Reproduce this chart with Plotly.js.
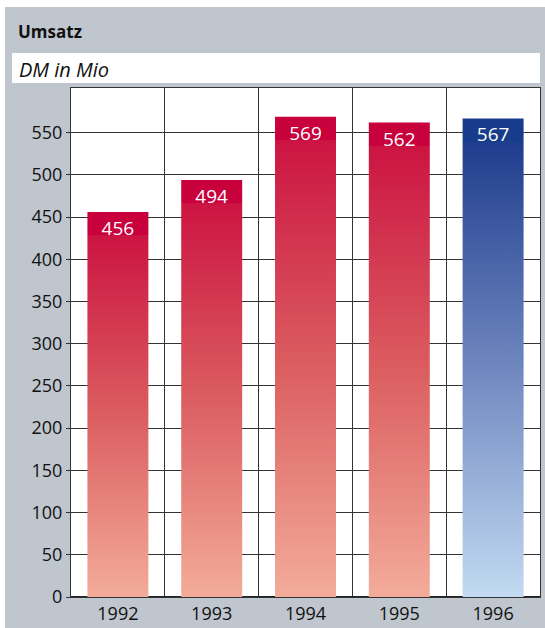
<!DOCTYPE html>
<html>
<head>
<meta charset="utf-8">
<script src="https://cdn.plot.ly/plotly-3.0.1.min.js"></script>
<style>
  html, body { margin: 0; padding: 0; background: #ffffff; width: 545px; height: 628px; overflow: hidden; }
  #chart { position: absolute; left: 5px; top: 7px; width: 540px; height: 621px; }
</style>
</head>
<body>
<div id="chart"></div>
<script>
// ---- data ----
const years = ['1992', '1993', '1994', '1995', '1996'];
const umsatz = [456, 494, 569, 562, 567];
const yTicks = [0, 50, 100, 150, 200, 250, 300, 350, 400, 450, 500, 550];
const chartTitle = 'Umsatz';
const unitLabel = 'DM in Mio';

// ---- styles ----
const scheme = ['red', 'red', 'red', 'red', 'blue'];
const palettes = {
  red:  { band: '#c8003c', stops: [['#cc1442', 0], ['#db5e60', 0.5], ['#f3ac9a', 1]] },
  blue: { band: '#183c8c', stops: [['#1f3d8d', 0], ['#7088c0', 0.5], ['#c3daf2', 1]] }
};
const FONT = '"Open Sans", "Noto Sans", sans-serif';
const TXT = '#111111';
const GRID = '#333333';

const gd = document.getElementById('chart');

const data = [{
  type: 'bar',
  x: years,
  y: umsatz,
  width: 0.65,
  marker: { color: scheme.map(s => palettes[s].stops[1][0]), line: { width: 0 } },
  text: umsatz.map(String),
  texttemplate: '%{text}',
  textposition: 'inside',
  insidetextanchor: 'end',
  textangle: 0,
  insidetextfont: { family: FONT, size: 19, color: '#ffffff' },
  hoverinfo: 'skip'
}];

const layout = {
  width: 540,
  height: 621,
  margin: { l: 66, r: 5, t: 81, b: 31 },
  paper_bgcolor: '#c0c6ce',
  plot_bgcolor: '#ffffff',
  showlegend: false,
  font: { family: FONT, color: TXT, size: 18 },
  title: {
    text: chartTitle,
    font: { family: FONT, size: 17, color: TXT, weight: 700 },
    xref: 'container', yref: 'container',
    x: 13 / 540, xanchor: 'left',
    y: 1 - 25 / 621, yanchor: 'middle'
  },
  xaxis: {
    type: 'category',
    tickson: 'boundaries',
    showgrid: true,
    gridcolor: GRID,
    gridwidth: 1,
    ticks: '',
    showline: true,
    linecolor: GRID,
    linewidth: 1,
    mirror: true,
    tickfont: { family: FONT, size: 18, color: TXT },
    fixedrange: true
  },
  yaxis: {
    range: [0, 603],
    tickvals: yTicks,
    ticktext: yTicks.map(String),
    showgrid: true,
    gridcolor: GRID,
    gridwidth: 1,
    zeroline: true,
    zerolinecolor: '#222222',
    zerolinewidth: 2,
    showline: true,
    linecolor: GRID,
    linewidth: 1,
    mirror: true,
    ticks: 'outside',
    ticklen: 4,
    tickcolor: GRID,
    tickfont: { family: FONT, size: 18, color: TXT },
    fixedrange: true
  },
  shapes: [{
    type: 'rect', xref: 'paper', yref: 'paper',
    x0: (7 - 66) / 469, x1: 1.0,
    y0: (590 - 76) / 509, y1: (590 - 46) / 509,
    fillcolor: '#ffffff', line: { width: 0 }, layer: 'below'
  }],
  annotations: [{
    text: '<i>' + unitLabel + '</i>',
    xref: 'paper', yref: 'paper',
    x: (12 - 66) / 469, xanchor: 'left',
    y: (590 - 62) / 509, yanchor: 'middle',
    showarrow: false,
    font: { family: FONT, size: 20, color: TXT }
  }]
};

function applyGradients() {
  const svg = gd.querySelector('svg.main-svg');
  let defs = svg.querySelector('defs');
  const NS = 'http://www.w3.org/2000/svg';
  if (!defs) { defs = document.createElementNS(NS, 'defs'); svg.insertBefore(defs, svg.firstChild); }
  const paths = gd.querySelectorAll('.barlayer .point path');
  paths.forEach((p, i) => {
    const bb = p.getBBox();
    const pal = palettes[scheme[i]];
    const bandFrac = Math.min(0.5, 23 / Math.max(bb.height, 1));
    const g = document.createElementNS(NS, 'linearGradient');
    g.setAttribute('id', 'barGrad' + i);
    g.setAttribute('x1', '0'); g.setAttribute('y1', '0');
    g.setAttribute('x2', '0'); g.setAttribute('y2', '1');
    const addStop = (off, col) => {
      const s = document.createElementNS(NS, 'stop');
      s.setAttribute('offset', off);
      s.setAttribute('stop-color', col);
      g.appendChild(s);
    };
    addStop(0, pal.band);
    addStop(bandFrac, pal.band);
    pal.stops.forEach(([col, f]) => {
      addStop(bandFrac + 0.001 + f * (1 - bandFrac - 0.001), col);
    });
    defs.appendChild(g);
    p.style.fill = 'url(#barGrad' + i + ')';
  });
}

Plotly.newPlot(gd, data, layout, { staticPlot: true, displayModeBar: false }).then(applyGradients);
</script>
</body>
</html>
